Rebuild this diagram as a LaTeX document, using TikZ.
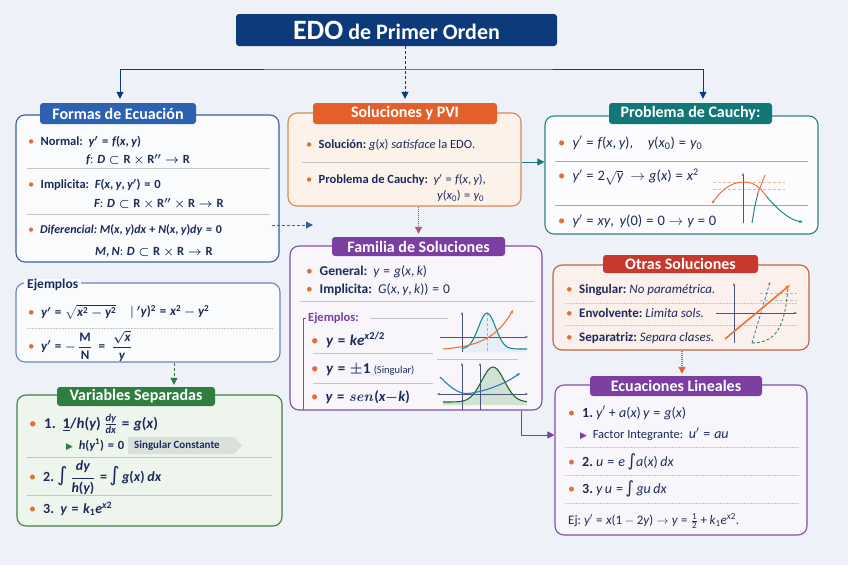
\documentclass[tikz,border=0pt]{standalone}
\usepackage{amsmath}
\usepackage[no-math]{fontspec}
\setmainfont{Carlito}[NFSSFamily=carlito]
\newfontfamily\symfnt{DejaVu Sans}
% math letters and digits taken from the text font
\DeclareSymbolFont{letters}{TU}{carlito}{m}{it}
\DeclareSymbolFont{operators}{TU}{carlito}{m}{n}
\SetSymbolFont{letters}{bold}{TU}{carlito}{\bfdefault}{it}
\SetSymbolFont{operators}{bold}{TU}{carlito}{\bfdefault}{n}
\mathcode`,="602C
\mathcode`.="002E
\mathcode`/="002F
\usetikzlibrary{arrows.meta}

\definecolor{bgc}{HTML}{EEF1F8}
\definecolor{navy}{HTML}{0C3A7B}
\definecolor{ink}{HTML}{1C2B5C}
\definecolor{bulc}{HTML}{E07038}
\definecolor{formc}{HTML}{2D62B2}
\definecolor{formline}{HTML}{3A5F9E}
\definecolor{ejline}{HTML}{6A86BA}
\definecolor{greenc}{HTML}{2F7D3F}
\definecolor{greenline}{HTML}{3E8048}
\definecolor{greenfill}{HTML}{EEF5EC}
\definecolor{orangec}{HTML}{E3602B}
\definecolor{orangeline}{HTML}{D88A4E}
\definecolor{orangefill}{HTML}{FCF2EA}
\definecolor{tealc}{HTML}{127777}
\definecolor{tealline}{HTML}{2C8181}
\definecolor{purpc}{HTML}{7A3FA0}
\definecolor{purpline}{HTML}{7E50A5}
\definecolor{purpfill}{HTML}{F8F5FB}
\definecolor{pinkc}{HTML}{B0508A}
\definecolor{redc}{HTML}{C7382D}
\definecolor{redline}{HTML}{C4623F}
\definecolor{redfill}{HTML}{FBF0EB}
\definecolor{curveor}{HTML}{E8743A}
\definecolor{curvetl}{HTML}{1C8A8A}
\definecolor{curvebl}{HTML}{2E78B8}

\newcommand\bul{{\color{bulc}\textbullet}\enspace}
\newcommand\tri[1]{{\color{#1}\fontsize{9}{9}\selectfont\symfnt ▶}}
\newcommand\intg{{\symfnt ∫}}

\begin{document}
\begin{tikzpicture}[x=1pt,y=-1pt,
  panel/.style={draw=#1,line width=1.1pt,rounded corners=9pt,inner sep=0pt},
  tab/.style={fill=#1,rounded corners=3pt,inner sep=0pt,minimum height=21pt,
    text=white,font=\fontsize{16}{18}\selectfont\bfseries},
  txt/.style={anchor=west,inner sep=0pt,text=ink,font=\fontsize{12.5}{14}\selectfont},
  btxt/.style={txt,font=\fontsize{12.5}{14}\selectfont\boldmath},
  sepline/.style={draw=gray!45,line width=0.5pt},
  dotsep/.style={sepline,densely dotted},
  link/.style={line width=1pt,-{Triangle[length=7pt,width=7pt]}},
  axis/.style={draw=ink!80,line width=0.6pt,-{Stealth[length=3pt]}},
]
\fill[bgc] (0,0) rectangle (848,565);

% title and top bus
\node[tab=navy,minimum width=321pt,minimum height=32pt,
  font=\fontsize{22}{24}\selectfont\bfseries] (title) at (396.5,30)
  {{\fontsize{28}{30}\selectfont EDO} de Primer Orden};

% panels
\node[panel=formline,fill=white!70!bgc,minimum width=263pt,minimum height=147pt] (formB) at (147.5,188.5) {};
\node[panel=ejline,fill=white!70!bgc,minimum width=264pt,minimum height=79pt] (ejB) at (148,322.5) {};
\node[panel=greenline,fill=greenfill,minimum width=265pt,minimum height=131pt] (varB) at (149.5,460.5) {};
\node[panel=orangeline,fill=orangefill,minimum width=233pt,minimum height=93pt] (solB) at (404.5,159.5) {};
\node[panel=purpline,fill=purpfill,minimum width=252pt,minimum height=164pt] (famB) at (416,328) {};
\node[panel=tealline,fill=white!80!bgc,minimum width=273pt,minimum height=118pt] (cauB) at (681.5,175) {};
\node[panel=redline,fill=redfill,minimum width=256pt,minimum height=85pt] (otrB) at (681,307.5) {};
\node[panel=purpline,fill=purpfill,minimum width=252pt,minimum height=150pt] (ecuB) at (681,460) {};

% tabs
\node[tab=formc,minimum width=156pt] (formT) at (118,113.5) {Formas de Ecuación};
\node[tab=greenc,minimum width=158pt,minimum height=19pt] (varT) at (136,396.5) {Variables Separadas};
\node[tab=orangec,minimum width=184pt] (solT) at (405,113.5) {Soluciones y PVI};
\node[tab=purpc,minimum width=173pt,minimum height=19pt] (famT) at (418.5,246.5) {Familia de Soluciones};
\node[tab=tealc,minimum width=163pt] (cauT) at (690.5,113.5) {Problema de Cauchy:};
\node[tab=redc,minimum width=155pt,minimum height=18pt] (otrT) at (680.5,264) {Otras Soluciones};
\node[tab=purpc,minimum width=172pt,minimum height=20pt] (ecuT) at (676,386) {Ecuaciones Lineales};

% connectors
\coordinate (bus) at (405,69);
\draw[link,navy,{Triangle[length=7pt,width=7pt]}-{Triangle[length=7pt,width=7pt]},
  shorten <=4pt,shorten >=4pt] ([xshift=2pt]formT.north) |- (bus) -| ([xshift=12.5pt]cauT.north);
\draw[link,navy,densely dashed,shorten >=4pt] (title.south -| solT.north) -- (solT.north);
\coordinate (famIn) at (313,225);
\draw[link,formline,densely dashed,shorten <=-8pt] (formB.east |- famIn) -- (famIn);
\draw[sepline] (302,162) -- (solB.east |- 0,162);
\draw[link,tealc,line width=0.8pt] (solB.east |- 0,162) -- (cauB.west |- 0,162);
\draw[link,pinkc,densely dotted,line width=1.3pt,shorten >=3pt] (solB.south -| famT.north) -- (famT.north);
\draw[link,purpc] (famB.south -| 521,0) |- (ecuB.west |- 0,435);
\draw[link,greenc,densely dashed,shorten >=2pt] (ejB.south -| 174,0) -- (varT.north -| 174,0);
\draw[link,orangec,densely dotted,line width=1.3pt,shorten >=2pt] (otrB.south -| 682,0) -- (ecuT.north -| 682,0);

% Formas de Ecuacion
\node[btxt] (fo1) at (28,142) {\bul\textbf{Normal:}\ \ $y'=f(x,y)$};
\node[btxt] (fo2) at (86,160) {$f$: $D\subset\mathrm{R}\times\mathrm{R}''\to\mathrm{R}$};
\draw[sepline] (27,168) -- (270,168);
\node[btxt] (fo3) at (28,185) {\bul\textbf{Implicita:}\ \ $F(x,y,y')=0$};
\node[btxt] (fo4) at (94,204) {$F$: $D\subset\mathrm{R}\times\mathrm{R}''\times\mathrm{R}\to\mathrm{R}$};
\draw[sepline] (27,214) -- (270,214);
\node[btxt,font=\fontsize{12}{14}\selectfont\boldmath] (fo5) at (28,230) {\bul\textbf{\textit{Diferencial:}}\ $M(x,y)dx+N(x,y)dy=0$};
\node[btxt] (fo6) at (95,252) {$M, N$: $D\subset\mathrm{R}\times\mathrm{R}\to\mathrm{R}$};

% Ejemplos
\node[txt,fill=white!70!bgc,inner xsep=3pt,font=\fontsize{13.5}{15}\selectfont\bfseries] (ejL) at (24,285) {Ejemplos};
\node[btxt,font=\fontsize{13}{15}\selectfont\boldmath] (ej1) at (28,312) {\bul$y'=\sqrt{x^2-y^2}$};
\node[btxt,font=\fontsize{13}{15}\selectfont\boldmath] (ej2) at (130,312) {$\vert\ 'y)^2=x^2-y^2$};
\draw[dotsep] (27,328) -- (272,328);
\node[btxt,font=\fontsize{13}{15}\selectfont\boldmath] (ej3) at (28,346) {\bul$y'=-\,\dfrac{\mathrm{M}}{\mathrm{N}}\ =\ \dfrac{\sqrt{x}}{y}$};

% Variables Separadas
\node[btxt,font=\fontsize{15}{17}\selectfont\boldmath] (va1) at (29,424) {\bul\textbf{1.}\ \ $\underline{1}/h(y)\ \frac{dy}{dx}=g(x)$};
\fill[greenc!10!white!85!gray] (128,437) -- (234,437) -- (242,445.5) -- (234,454) -- (128,454) -- cycle;
\node[btxt] (va2) at (66,445) {\tri{greenc}\ \ $h(y^1)=0$};
\node[txt,font=\fontsize{11}{12}\selectfont\bfseries] (va3) at (134,445.5) {Singular Constante};
\draw[sepline] (27,457) -- (272,457);
\node[btxt,font=\fontsize{14}{16}\selectfont\boldmath] (va4) at (29,478) {\bul\textbf{2.}\ {\fontsize{20}{20}\selectfont\intg}$\,\dfrac{dy}{h(y)}=$\,{\fontsize{20}{20}\selectfont\intg}\,$g(x)\,dx$};
\draw[sepline] (27,495) -- (272,495);
\node[btxt,font=\fontsize{14}{16}\selectfont\boldmath] (va5) at (29,509) {\bul\textbf{3.}\ \ $y=k_1e^{x2}$};

% Soluciones y PVI
\node[txt] (so1) at (306,145) {\bul\textbf{Solución:}\ $g(x)$ \textit{satisface} la EDO.};
\node[txt] (so2) at (306,180) {\bul\textbf{Problema de Cauchy:}\ \ $y'=f(x,y)$,};
\node[txt] (so3) at (437,196) {$y(x_0)=y_0$};

% Problema de Cauchy
\node[txt,font=\fontsize{14.5}{16}\selectfont] (ca1) at (558,143) {\bul$y'=f(x,y)$,\quad$y(x_0)=y_0$};
\draw[draw=gray!70,line width=0.6pt] (555,161) -- (808,161);
\node[txt,font=\fontsize{14.5}{16}\selectfont] (ca2) at (558,177) {\bul$y'=2\sqrt{y}\ \to g(x)=x^2$};
\draw[draw=gray!70,line width=0.6pt] (555,205) -- (808,205);
\node[txt,font=\fontsize{14.5}{16}\selectfont] (ca3) at (558,221) {\bul$y'=xy,\ y(0)=0\to y=0$};
% sketch of two solutions through the origin
\draw[orangeline!60,densely dashed,line width=0.4pt] (713,182) -- (785,182) (713,189) -- (785,189);
\draw[axis] (743,223) -- (743,173);
\draw[curveor,line width=1pt] (713,202) .. controls (725,185) and (735,182) .. (745,182)
  .. controls (755,182) and (762,190) .. (767,197);
\draw[curvetl,line width=1pt,-{Stealth[length=4pt]}] (767,197) .. controls (780,212) and (790,220) .. (803,222);
\fill[curveor] (713,202) circle (1.5pt);
\draw[curveor,line width=1pt] (765,175) -- (758,193);
\draw[curvetl,line width=1pt] (758,193) .. controls (755,205) .. (752,223);

% Familia de Soluciones
\node[txt,font=\fontsize{13.5}{15}\selectfont] (fa1) at (306,272) {\bul\textbf{General:}\ \ $y=g(x,k)$};
\node[txt,font=\fontsize{13.5}{15}\selectfont] (fa2) at (306,290) {\bul\textbf{Implicita:}\ \ $G(x,y,k))=0$};
\draw[sepline] (300,301) -- (535,301);
\draw[purpline,line width=0.9pt] (306,318) -- (303,318) -- (303,410);
\node[txt,text=purpc,font=\fontsize{12.5}{14}\selectfont\bfseries] (faE) at (308,318) {Ejemplos:};
\draw[sepline] (370,318) -- (448,318);
\node[btxt,font=\fontsize{15}{17}\selectfont\boldmath] (fa3) at (311,340) {\bul$y=ke^{x2/2}$};
\draw[sepline] (313,353) -- (433,353);
\node[btxt,font=\fontsize{15}{17}\selectfont\boldmath] (fa4) at (311,370) {\bul$y=\pm1$ {\fontsize{10.5}{12}\selectfont(Singular)}};
\draw[sepline] (313,383) -- (433,383);
\node[btxt,font=\fontsize{14.5}{17}\selectfont\boldmath] (fa5) at (311,397) {\bul$y=\mathit{sen}(x{-}k)$};
% sketch: bell and exponential
\fill[curvebl!12] (462,352) -- plot[domain=462:527,samples=40] (\x,{349-36*exp(-((\x-487)/12)^2)}) -- (527,352) -- cycle;
\draw[gray!60,densely dashed,line width=0.4pt] (487,313) -- (487,352);
\draw[axis] (440,337) -- (528,337);
\draw[axis] (462,352) -- (462,312);
\draw[curvetl,line width=1.1pt] plot[domain=462:527,samples=40,smooth] (\x,{349-36*exp(-((\x-487)/12)^2)});
\draw[curveor,line width=1.1pt,-{Stealth[length=4pt]}] plot[domain=443:513,samples=30,smooth] (\x,{349-1.75*(exp(0.045*(\x-443))-1)});
\draw[sepline] (437,359) -- (518,359);
% sketch: parabola and bell
\fill[greenc!22] (443,405) -- plot[domain=443:527,samples=40] (\x,{402-35*exp(-((\x-493)/16)^2)}) -- (527,405) -- cycle;
\draw[axis,{Stealth[length=3pt]}-{Stealth[length=3pt]}] (437,394) -- (528,394);
\draw[axis] (462,410) -- (462,363);
\draw[axis] (480,410) -- (480,363);
\draw[greenc!80!black,line width=1.1pt] plot[domain=443:527,samples=40,smooth] (\x,{402-35*exp(-((\x-493)/16)^2)});
\draw[curvebl,line width=1.1pt,-{Stealth[length=4pt]}] (440,377) .. controls (455,392) and (462,395) .. (472,393)
  .. controls (490,390) and (508,382) .. (520,373);

% Otras Soluciones
\node[txt,font=\fontsize{13}{15}\selectfont] (ot1) at (566,290) {\bul\textbf{Singular:}\ \textit{No paramétrica.}};
\draw[dotsep] (565,303) -- (797,303);
\node[txt,font=\fontsize{13}{15}\selectfont] (ot2) at (566,313) {\bul\textbf{Envolvente:}\ \textit{Limita sols.}};
\draw[dotsep] (565,325) -- (797,325);
\node[txt,font=\fontsize{13}{15}\selectfont] (ot3) at (566,338) {\bul\textbf{Separatriz:}\ \textit{Separa clases.}};
% sketch: separatrix and envelope
\draw[gray!50,densely dashed,line width=0.4pt] (760,293) -- (797,293) (760,300) -- (797,300);
\draw[axis] (734,343) -- (734,283);
\draw[axis] (716,313) -- (797,313);
\draw[curvebl,densely dashed,line width=0.8pt,-{Stealth[length=3pt]}] (752,343) -- (770,282);
\draw[greenc,densely dashed,line width=0.8pt] (752,343) .. controls (780,343) and (785,320) .. (788,288);
\draw[curveor,line width=1.6pt,-{Stealth[length=5pt]}] (725,339) -- (790,285);

% Ecuaciones Lineales
\node[txt,font=\fontsize{14}{16}\selectfont] (ec1) at (568,413) {\bul\textbf{1.}\ $y'+a(x)\,y=g(x)$};
\node[txt] (ec2) at (580,434) {\tri{purpc}\ \ Factor Integrante:\ \ {\fontsize{14}{16}\selectfont$u'=au$}};
\draw[dotsep] (565,447) -- (798,447);
\node[txt,font=\fontsize{14}{16}\selectfont] (ec3) at (568,462) {\bul\textbf{2.}\ $u=e$\,{\fontsize{17}{17}\selectfont\intg}$a(x)\,dx$};
\draw[dotsep] (565,475) -- (798,475);
\node[txt,font=\fontsize{14}{16}\selectfont] (ec4) at (568,489) {\bul\textbf{3.}\ $y\,u=$\,{\fontsize{17}{17}\selectfont\intg}\,$gu\,dx$};
\draw[dotsep] (565,503) -- (798,503);
\node[txt,font=\fontsize{13}{15}\selectfont] (ec5) at (568,521) {Ej:\ $y'=x(1-2y)\to y=\tfrac{1}{2}+k_1e^{x2}$.};
\end{tikzpicture}
\end{document}
